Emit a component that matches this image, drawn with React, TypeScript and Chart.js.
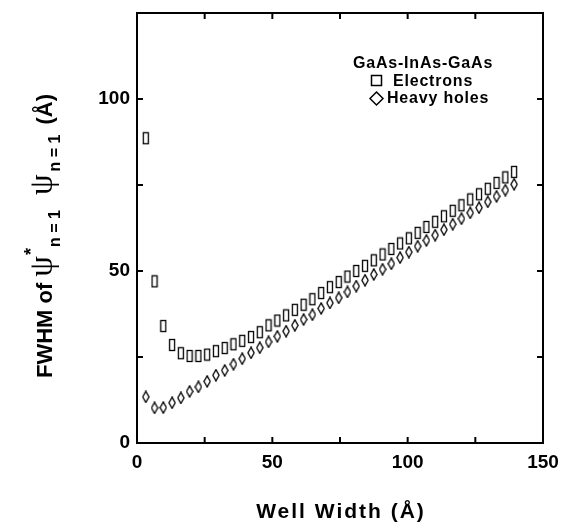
import React, { useEffect, useRef } from 'react';
import { Chart, registerables } from 'chart.js';

Chart.register(...registerables);

// Well widths (Å) of the computed points
const wellWidth = [
  3.24, 6.48, 9.72, 12.96, 16.2, 19.44, 22.68, 25.92, 29.16, 32.4,
  35.64, 38.88, 42.12, 45.36, 48.6, 51.84, 55.08, 58.32, 61.56, 64.8,
  68.04, 71.28, 74.52, 77.76, 81.0, 84.24, 87.48, 90.72, 93.96, 97.2,
  100.44, 103.68, 106.92, 110.16, 113.4, 116.64, 119.88, 123.12, 126.36, 129.6,
  132.84, 136.08, 139.32,
];

// FWHM (Å) for electrons
const electrons = [
  88.6, 47.0, 34.0, 28.5, 26.1, 25.3, 25.3, 25.7, 26.7, 27.6,
  28.7, 29.7, 30.8, 32.2, 34.2, 35.6, 37.1, 38.7, 40.2, 41.8,
  43.6, 45.3, 46.8, 48.4, 50.0, 51.5, 53.1, 54.8, 56.4, 58.0,
  59.5, 61.1, 62.8, 64.3, 65.9, 67.5, 69.1, 70.8, 72.3, 73.9,
  75.6, 77.2, 78.8,
];

// FWHM (Å) for heavy holes
const heavyHoles = [
  13.4, 10.2, 10.3, 11.7, 13.1, 15.0, 16.3, 17.9, 19.7, 21.1,
  22.9, 24.5, 26.2, 27.7, 29.4, 31.0, 32.5, 34.2, 35.9, 37.3,
  39.1, 40.7, 42.2, 43.9, 45.6, 47.3, 49.0, 50.5, 52.1, 53.9,
  55.5, 57.2, 58.9, 60.4, 62.0, 63.6, 65.2, 66.9, 68.4, 70.1,
  71.7, 73.5, 75.2,
];

const xTickValues = [0, 25, 50, 75, 100, 125, 150];
const xTickLabels = [0, 50, 100, 150];
const yTickValues = [0, 25, 50, 75, 100, 125];
const yTickLabels = [0, 50, 100];

const legendTitle = 'GaAs-InAs-GaAs';
const seriesNames = ['Electrons', 'Heavy holes'];
const xTitle = 'Well Width (Å)';

const SANS = '"Liberation Sans", Arial, Helvetica, sans-serif';
const SERIF = '"Liberation Serif", "DejaVu Serif", serif';

function makeRectMarker(): HTMLCanvasElement {
  const c = document.createElement('canvas');
  c.width = 8;
  c.height = 14;
  const g = c.getContext('2d')!;
  g.strokeStyle = '#000';
  g.lineWidth = 1.3;
  g.strokeRect(1.5, 1.5, 5, 11);
  return c;
}

function makeDiamondMarker(): HTMLCanvasElement {
  const c = document.createElement('canvas');
  c.width = 8;
  c.height = 13;
  const g = c.getContext('2d')!;
  g.strokeStyle = '#000';
  g.lineWidth = 1.3;
  g.beginPath();
  g.moveTo(4, 0.9);
  g.lineTo(7.1, 6.5);
  g.lineTo(4, 12.1);
  g.lineTo(0.9, 6.5);
  g.closePath();
  g.stroke();
  return c;
}

const decorPlugin = {
  id: 'decor',
  afterDraw(chart: any) {
    const { ctx, chartArea: ca, scales } = chart;
    const xs = scales.x;
    const ys = scales.y;
    ctx.save();
    ctx.strokeStyle = '#000';
    ctx.fillStyle = '#000';
    // frame
    ctx.lineWidth = 2;
    ctx.strokeRect(ca.left, ca.top, ca.right - ca.left, ca.bottom - ca.top);
    // inward ticks
    const tl = 6;
    ctx.beginPath();
    for (const v of xTickValues) {
      const px = xs.getPixelForValue(v);
      if (px <= ca.left + 1 || px >= ca.right - 1) continue;
      ctx.moveTo(px, ca.bottom);
      ctx.lineTo(px, ca.bottom - tl);
      ctx.moveTo(px, ca.top);
      ctx.lineTo(px, ca.top + tl);
    }
    for (const v of yTickValues) {
      const py = ys.getPixelForValue(v);
      if (py <= ca.top + 1 || py >= ca.bottom - 1) continue;
      ctx.moveTo(ca.left, py);
      ctx.lineTo(ca.left + tl, py);
      ctx.moveTo(ca.right, py);
      ctx.lineTo(ca.right - tl, py);
    }
    ctx.stroke();

    // x title
    ctx.font = 'bold 21px ' + SANS;
    (ctx as any).letterSpacing = '2px';
    ctx.textAlign = 'center';
    ctx.textBaseline = 'alphabetic';
    ctx.fillText(xTitle, (ca.left + ca.right) / 2 + 1, 518);
    (ctx as any).letterSpacing = '0px';

    // y title with sub/superscripts
    const parts = [
      { t: 'FWHM of', f: 'bold 22px ' + SANS, dy: 0, gap: 6 },
      { t: 'ψ', f: '33px ' + SERIF, dy: 0, gap: 1 },
      { t: '*', f: 'bold 18px ' + SANS, dy: -15, gap: 1 },
      { t: 'n = 1', f: 'bold 16px ' + SANS, dy: 8, gap: 15 },
      { t: 'ψ', f: '33px ' + SERIF, dy: 0, gap: 3 },
      { t: 'n = 1', f: 'bold 16px ' + SANS, dy: 8, gap: 10 },
      { t: '(Å)', f: 'bold 22px ' + SANS, dy: 0, gap: 0 },
    ];
    let total = 0;
    const widths: number[] = [];
    for (const p of parts) {
      ctx.font = p.f;
      const w = ctx.measureText(p.t).width;
      widths.push(w);
      total += w + p.gap;
    }
    ctx.translate(52, 236);
    ctx.rotate(-Math.PI / 2);
    ctx.textAlign = 'left';
    let cx = -total / 2;
    parts.forEach((p, i) => {
      ctx.font = p.f;
      ctx.fillText(p.t, cx, p.dy);
      cx += widths[i] + p.gap;
    });
    ctx.setTransform(1, 0, 0, 1, 0, 0);

    // legend
    ctx.font = 'bold 16px ' + SANS;
    (ctx as any).letterSpacing = '0.8px';
    ctx.textAlign = 'left';
    ctx.fillText(legendTitle, 353, 68);
    ctx.fillText(seriesNames[0], 393, 86);
    ctx.fillText(seriesNames[1], 387, 103);
    (ctx as any).letterSpacing = '0px';
    ctx.lineWidth = 1.5;
    ctx.strokeRect(371.5, 75.5, 10, 10);
    ctx.beginPath();
    ctx.moveTo(376.5, 92);
    ctx.lineTo(383, 98.5);
    ctx.lineTo(376.5, 105);
    ctx.lineTo(370, 98.5);
    ctx.closePath();
    ctx.stroke();
    ctx.restore();
  },
};

export default function App() {
  const canvasRef = useRef<HTMLCanvasElement | null>(null);

  useEffect(() => {
    const canvas = canvasRef.current;
    if (!canvas) return;
    const rectMarker = makeRectMarker();
    const diamondMarker = makeDiamondMarker();
    const tickFont = { family: SANS, size: 19, weight: 'bold' as const };

    const chart = new Chart(canvas, {
      type: 'scatter',
      data: {
        datasets: [
          {
            label: seriesNames[0],
            data: wellWidth.map((x, i) => ({ x, y: electrons[i] })),
            pointStyle: rectMarker as any,
            pointRadius: 5,
            showLine: false,
          },
          {
            label: seriesNames[1],
            data: wellWidth.map((x, i) => ({ x, y: heavyHoles[i] })),
            pointStyle: diamondMarker as any,
            pointRadius: 5,
            showLine: false,
          },
        ],
      },
      options: {
        animation: false,
        responsive: false,
        devicePixelRatio: 1,
        layout: { autoPadding: false, padding: { left: 0, right: 18, top: 13, bottom: 0 } },
        plugins: {
          legend: { display: false },
          tooltip: { enabled: false },
        },
        scales: {
          x: {
            type: 'linear',
            min: 0,
            max: 150,
            grid: { display: false, drawTicks: false },
            border: { display: false },
            ticks: {
              stepSize: 25,
              autoSkip: false,
              maxRotation: 0,
              color: '#000',
              font: tickFont,
              padding: 8,
              callback: (v: any) => (xTickLabels.includes(Number(v)) ? String(v) : ''),
            },
            afterFit: (s: any) => {
              s.height = 80;
              s.paddingLeft = 0;
              s.paddingRight = 0;
              s.paddingTop = 0;
              s.paddingBottom = 0;
            },
          },
          y: {
            type: 'linear',
            min: 0,
            max: 125,
            grid: { display: false, drawTicks: false },
            border: { display: false },
            ticks: {
              stepSize: 25,
              autoSkip: false,
              color: '#000',
              font: tickFont,
              padding: 7,
              callback: (v: any) => (yTickLabels.includes(Number(v)) ? String(v) : ''),
            },
            afterFit: (s: any) => {
              s.width = 137;
              s.paddingLeft = 0;
              s.paddingRight = 0;
              s.paddingTop = 0;
              s.paddingBottom = 0;
            },
          },
        },
      },
      plugins: [decorPlugin],
    });
    return () => chart.destroy();
  }, []);

  return (
    <div style={{ position: 'absolute', left: 0, top: 0, width: 561, height: 523, background: '#fff' }}>
      <canvas ref={canvasRef} width={561} height={523} style={{ display: 'block' }} />
    </div>
  );
}
